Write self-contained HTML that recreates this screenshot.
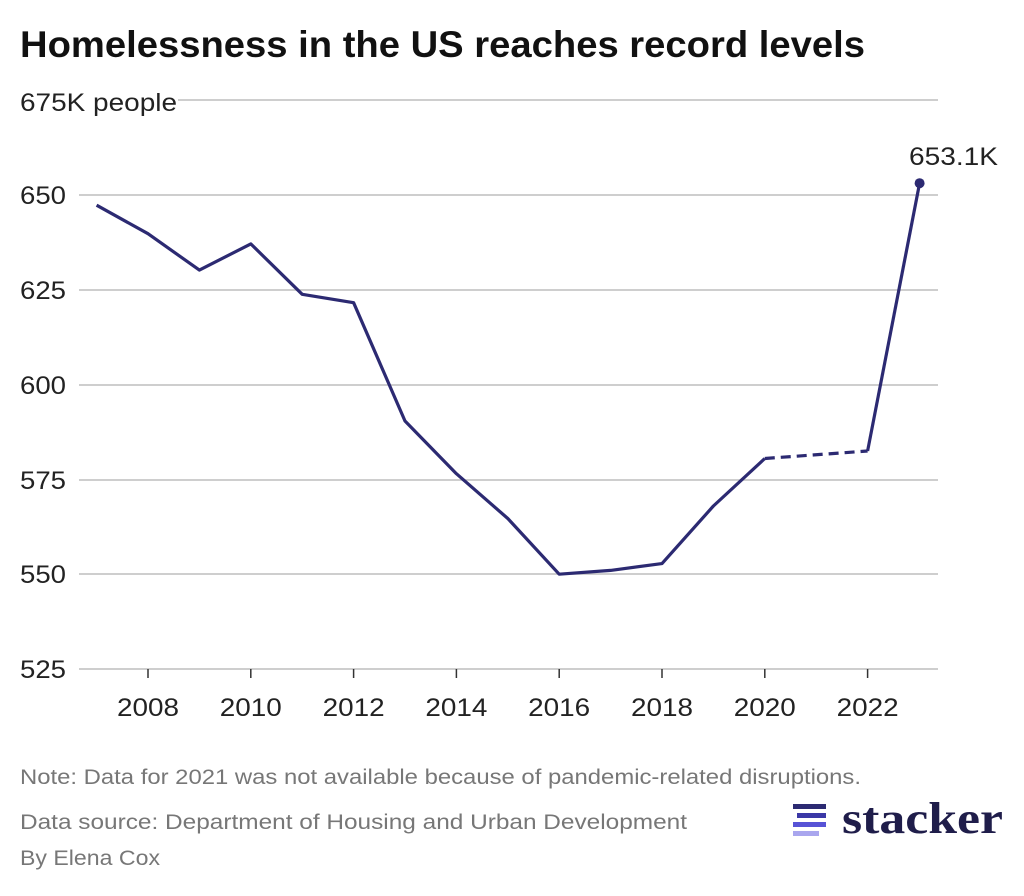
<!DOCTYPE html>
<html><head><meta charset="utf-8"><style>
body{margin:0;background:#fff;width:1024px;height:891px;overflow:hidden;font-family:"Liberation Sans",sans-serif}
</style></head><body>
<svg width="1024" height="891" xmlns="http://www.w3.org/2000/svg" font-family="Liberation Sans, sans-serif">
<text x="20" y="57" font-size="37" font-weight="bold" fill="#111" textLength="845" lengthAdjust="spacingAndGlyphs">Homelessness in the US reaches record levels</text>
<g stroke="#bdbdbd" stroke-width="1.5">
<line x1="178" y1="100" x2="938" y2="100"/>
<line x1="79" y1="195" x2="938" y2="195"/>
<line x1="79" y1="290" x2="938" y2="290"/>
<line x1="79" y1="385" x2="938" y2="385"/>
<line x1="79" y1="480" x2="938" y2="480"/>
<line x1="79" y1="574" x2="938" y2="574"/>
<line x1="79" y1="669" x2="938" y2="669"/>
</g>
<g stroke="#333" stroke-width="1.5">
<line x1="148" y1="669" x2="148" y2="678"/><line x1="250.8" y1="669" x2="250.8" y2="678"/>
<line x1="353.6" y1="669" x2="353.6" y2="678"/><line x1="456.4" y1="669" x2="456.4" y2="678"/>
<line x1="559.2" y1="669" x2="559.2" y2="678"/><line x1="662" y1="669" x2="662" y2="678"/>
<line x1="764.8" y1="669" x2="764.8" y2="678"/><line x1="867.6" y1="669" x2="867.6" y2="678"/>
</g>
<g font-size="25" fill="#222">
<text x="20" y="111" textLength="157" lengthAdjust="spacingAndGlyphs">675K people</text>
<text x="20" y="204" textLength="46" lengthAdjust="spacingAndGlyphs">650</text><text x="20" y="299" textLength="46" lengthAdjust="spacingAndGlyphs">625</text><text x="20" y="394" textLength="46" lengthAdjust="spacingAndGlyphs">600</text>
<text x="20" y="489" textLength="46" lengthAdjust="spacingAndGlyphs">575</text><text x="20" y="583" textLength="46" lengthAdjust="spacingAndGlyphs">550</text><text x="20" y="678" textLength="46" lengthAdjust="spacingAndGlyphs">525</text>
</g>
<g font-size="25" fill="#222">
<text x="117" y="716" textLength="62" lengthAdjust="spacingAndGlyphs">2008</text><text x="219.8" y="716" textLength="62" lengthAdjust="spacingAndGlyphs">2010</text><text x="322.6" y="716" textLength="62" lengthAdjust="spacingAndGlyphs">2012</text>
<text x="425.4" y="716" textLength="62" lengthAdjust="spacingAndGlyphs">2014</text><text x="528.2" y="716" textLength="62" lengthAdjust="spacingAndGlyphs">2016</text><text x="631" y="716" textLength="62" lengthAdjust="spacingAndGlyphs">2018</text>
<text x="733.8" y="716" textLength="62" lengthAdjust="spacingAndGlyphs">2020</text><text x="836.6" y="716" textLength="62" lengthAdjust="spacingAndGlyphs">2022</text>
</g>
<polyline fill="none" stroke="#2c2a72" stroke-width="3.2" stroke-linejoin="round" points="96.6,205.2 148,233.7 199.4,270.1 250.8,243.9 302.2,294.3 353.6,302.7 405,421 456.4,473.7 507.8,518.5 559.2,574.2 610.6,570.4 662,563.6 713.4,506 764.8,458.5"/>
<line x1="764.8" y1="458.5" x2="867.6" y2="451" stroke="#2c2a72" stroke-width="3.2" stroke-dasharray="10,6"/>
<polyline fill="none" stroke="#2c2a72" stroke-width="3.2" points="867.6,451 919.6,183.2"/>
<circle cx="919.6" cy="183.2" r="5" fill="#2c2a72"/>
<text x="909" y="165" font-size="25" fill="#222" textLength="89" lengthAdjust="spacingAndGlyphs">653.1K</text>
<g font-size="21" fill="#777">
<text x="20" y="784" textLength="841" lengthAdjust="spacingAndGlyphs">Note: Data for 2021 was not available because of pandemic-related disruptions.</text>
<text x="20" y="829" textLength="667" lengthAdjust="spacingAndGlyphs">Data source: Department of Housing and Urban Development</text>
<text x="20" y="865" textLength="140" lengthAdjust="spacingAndGlyphs">By Elena Cox</text>
</g>
<rect x="793" y="804" width="33" height="5" fill="#2c2a72"/>
<rect x="797" y="813" width="29" height="5" fill="#3b38a6"/>
<rect x="793" y="822" width="33" height="5" fill="#5753d6"/>
<rect x="793" y="831" width="26" height="5" fill="#a9a6ee"/>
<text x="842" y="833" font-size="44" font-weight="bold" font-family="Liberation Serif, serif" fill="#1f1d4a" textLength="161" lengthAdjust="spacingAndGlyphs">stacker</text>
</svg>
</body></html>
